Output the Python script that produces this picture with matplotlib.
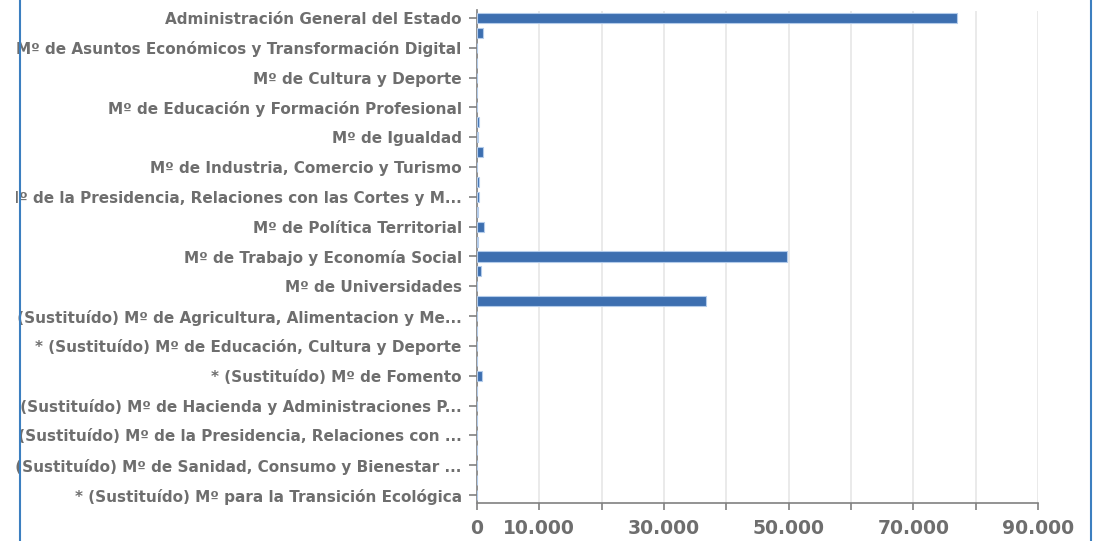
import matplotlib
matplotlib.use("Agg")
import matplotlib.pyplot as plt
from matplotlib.transforms import Bbox, TransformedBbox
from matplotlib.lines import Line2D

categories = [
    "Administración General del Estado",
    "Mº de Agricultura, Pesca y Alimentación",
    "Mº de Asuntos Económicos y Transformación Digital",
    "Mº de Ciencia e Innovación",
    "Mº de Cultura y Deporte",
    "Mº de Defensa",
    "Mº de Educación y Formación Profesional",
    "Mº de Hacienda",
    "Mº de Igualdad",
    "Mº de Inclusión, Seguridad Social y Migraciones",
    "Mº de Industria, Comercio y Turismo",
    "Mº de Justicia",
    "Mº de la Presidencia, Relaciones con las Cortes y M...",
    "Mº de Política Territorial y Función Pública",
    "Mº de Política Territorial",
    "Mº de Sanidad",
    "Mº de Trabajo y Economía Social",
    "Mº de Transportes, Movilidad y Agenda Urbana",
    "Mº de Universidades",
    "Mº para la Transición Ecológica y el Reto Demográfico",
    "* (Sustituído) Mº de Agricultura, Alimentacion y Me...",
    "* (Sustituído) Mº de Economía y Empresa",
    "* (Sustituído) Mº de Educación, Cultura y Deporte",
    "* (Sustituído) Mº de Empleo y Seguridad Social",
    "* (Sustituído) Mº de Fomento",
    "* (Sustituído) Mº de Hacienda",
    "* (Sustituído) Mº de Hacienda y Administraciones P...",
    "* (Sustituído) Mº de Justicia",
    "* (Sustituído) Mº de la Presidencia, Relaciones con ...",
    "* (Sustituído) Mº de Política Territorial y Función P...",
    "* (Sustituído) Mº de Sanidad, Consumo y Bienestar ...",
    "* (Sustituído) Mº de Trabajo, Migraciones y Segurid...",
    "* (Sustituído) Mº para la Transición Ecológica",
]

values = [
    77000, 950, 40, 60, 30, 50, 40, 300, 120, 950, 60, 400,
    380, 200, 1100, 120, 49700, 650, 80, 36800, 40, 60,
    30, 50, 750, 40, 60, 30, 40, 30, 60, 40, 30,
]

x_ticks = [0, 10000, 20000, 30000, 40000, 50000, 60000, 70000, 80000, 90000]
x_tick_labels = ["0", "10.000", "", "30.000", "", "50.000", "", "70.000", "", "90.000"]

W, H = 1095, 541
fig = plt.figure(figsize=(W / 100, H / 100), dpi=100)
left, right = 477 / W, 1038 / W
top, bottom = 1 - 10.5 / H, 1 - 502.5 / H
ax = fig.add_axes([left, bottom, right - left, top - bottom])

ypos = list(range(len(categories)))
ax.barh(ypos, values, height=0.68, color="#3d6fb0", edgecolor="#b3cbea",
        linewidth=0.8, zorder=3)

ax.set_ylim(len(categories) - 0.5, -0.5)
ax.set_xlim(0, 90000)

ax.set_yticks(ypos[::2])
ax.set_yticklabels(categories[::2])
ax.set_xticks(x_ticks)
ax.set_xticklabels(x_tick_labels)

gray = "#6e6e6e"
ax.tick_params(axis="y", length=6, width=1.2, color="#808080", pad=5,
               labelsize=11, labelcolor=gray)
ax.tick_params(axis="x", length=5, width=1.2, color="#808080", pad=7,
               labelsize=13.5, labelcolor=gray)
for lab in ax.get_yticklabels() + ax.get_xticklabels():
    lab.set_fontweight("bold")

clip = TransformedBbox(Bbox([[15.5 / W, 0], [1, 1]]), fig.transFigure)
for lab in ax.get_yticklabels():
    lab.set_clip_box(clip)
    lab.set_clip_on(True)

ax.grid(axis="x", color="#e6e6e6", linewidth=1.2, zorder=0)
ax.set_axisbelow(True)
for s in ["top", "right"]:
    ax.spines[s].set_visible(False)
for s in ["left", "bottom"]:
    ax.spines[s].set_color("#808080")
    ax.spines[s].set_linewidth(1.2)

for xp in (20.5 / W, 1091 / W):
    fig.add_artist(Line2D([xp, xp], [0, 1], transform=fig.transFigure,
                          color="#3c7fc0", linewidth=1.5))

fig.savefig("out.png", dpi=100)
